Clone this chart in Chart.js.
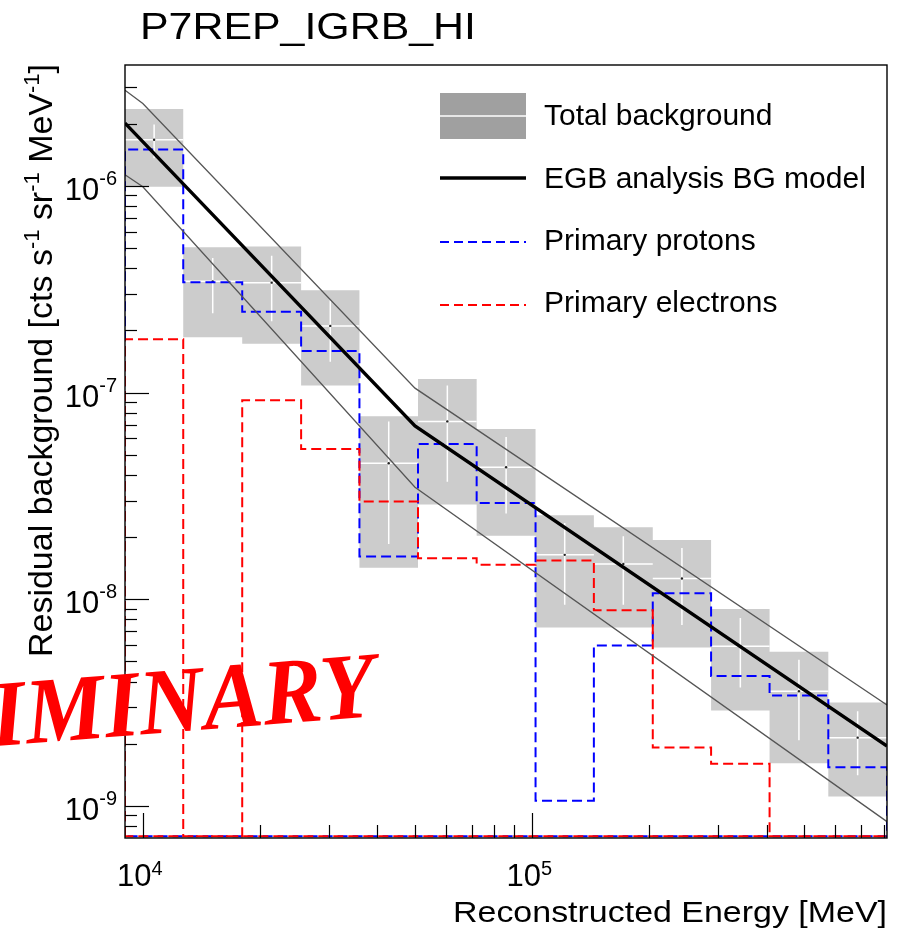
<!DOCTYPE html>
<html>
<head>
<meta charset="utf-8">
<title>P7REP_IGRB_HI residual background</title>
<script src="https://cdn.jsdelivr.net/npm/chart.js@4.4.1/dist/chart.umd.min.js"></script>
<style>
  html, body { margin: 0; padding: 0; background: #fff; overflow: hidden; }
  #wrap { position: relative; width: 898px; height: 932px; }
</style>
</head>
<body>
<div id="wrap"><canvas id="bgChart"></canvas></div>
<script>
// Energy bin edges [MeV] (sqrt(2) spacing)
const binEdges = [9000, 12700, 18000, 25500, 36000, 50900, 72000, 102000, 144000, 204000, 288000, 407000, 576000, 815000];

// Total residual background per bin: value, total (box) and stat (bar) half-widths
const totalBg  = [1.67e-6, 3.45e-7, 3.40e-7, 2.10e-7, 4.55e-8, 7.25e-8, 4.35e-8, 1.64e-8, 1.48e-8, 1.26e-8, 5.93e-9, 3.59e-9, 2.14e-9];
const totalErr = [0.68e-6, 1.60e-7, 1.68e-7, 1.02e-7, 3.13e-8, 4.38e-8, 2.32e-8, 9.1e-9, 7.5e-9, 6.75e-9, 3.03e-9, 1.98e-9, 1.03e-9];
const statErr  = [0.31e-6, 1.03e-7, 1.19e-7, 0.69e-7, 2.70e-8, 3.55e-8, 1.75e-8, 7.0e-9, 5.4e-9, 5.1e-9, 2.19e-9, 1.51e-9, 0.73e-9];

// Primary proton / electron contributions per bin (0 = empty bin)
const protons   = [1.50e-6, 3.42e-7, 2.46e-7, 1.59e-7, 1.61e-8, 5.63e-8, 2.92e-8, 1.06e-9, 5.97e-9, 1.07e-8, 4.25e-9, 3.42e-9, 1.54e-9];
const electrons = [1.81e-7, 0, 9.18e-8, 5.33e-8, 2.97e-8, 1.58e-8, 1.47e-8, 1.54e-8, 8.84e-9, 1.92e-9, 1.60e-9, 0, 0];

// EGB analysis background model and its band
const modelE  = [9000, 50000, 815000];
const modelBg = [2.01e-6, 6.9e-8, 1.95e-9];
const bandE   = [9000, 10000, 50000, 815000];
const bandHi  = [2.90e-6, 2.50e-6, 1.05e-7, 3.08e-9];
const bandLo  = [1.13e-6, 9.9e-7, 3.48e-8, 8.4e-10];

// Axis ranges and labelled decades
const xRange = [9000, 815000];
const yRange = [7.14e-10, 3.84e-6];
const xDecades = [4, 5];
const yDecades = [-9, -8, -7, -6];

const FONT = '"Liberation Sans", Arial, Helvetica, sans-serif';

// --- build point lists from the arrays ---
const nBins = totalBg.length;
const binMid = i => Math.sqrt(binEdges[i] * binEdges[i + 1]);

function histPoints(vals) {
  // outline like a ROOT histogram; empty bins sit on the bottom of the frame
  const floor = yRange[0];
  const v = vals.map(y => Math.max(y, floor));
  const pts = [{ x: binEdges[0], y: floor }];
  v.forEach((y, i) => pts.push({ x: binEdges[i], y }));
  pts.push({ x: binEdges[nBins], y: v[nBins - 1] });
  pts.push({ x: binEdges[nBins], y: floor });
  pts.push({ x: binEdges[0], y: floor });
  return pts;
}

function boxEdge(sign) {
  const pts = totalBg.map((c, i) => ({ x: binEdges[i], y: c + sign * totalErr[i] }));
  pts.push({ x: binEdges[nBins], y: pts[nBins - 1].y });
  return pts;
}

const hBars = [], vBars = [], centres = [];
totalBg.forEach((c, i) => {
  hBars.push({ x: binEdges[i], y: c }, { x: binEdges[i + 1], y: c }, { x: binEdges[i + 1], y: null });
  vBars.push({ x: binMid(i), y: c - statErr[i] }, { x: binMid(i), y: c + statErr[i] }, { x: binMid(i), y: null });
  centres.push({ x: binMid(i), y: c });
});

const zip = (xs, ys) => xs.map((x, i) => ({ x, y: ys[i] }));

// --- drawing helpers ---
function drawPower(ctx, exp, x, tickPos, axis) {
  ctx.font = '31px ' + FONT;
  const wBase = ctx.measureText('10').width;
  ctx.font = '20px ' + FONT;
  const sup = String(exp);
  const wSup = ctx.measureText(sup).width;
  const total = wBase + wSup;
  let left, baseY, supY;
  if (axis === 'y') {
    left = x - total; baseY = tickPos + 14; supY = tickPos - 1;
  } else {
    left = x - total / 2 - 3; baseY = tickPos + 48; supY = tickPos + 37;
  }
  ctx.textAlign = 'left';
  ctx.textBaseline = 'alphabetic';
  ctx.font = '31px ' + FONT;
  ctx.fillText('10', left, baseY);
  ctx.font = '20px ' + FONT;
  ctx.fillText(sup, left + wBase, supY);
}

function drawRich(ctx, pieces, size, supSize, lift) {
  let w = 0;
  pieces.forEach(p => {
    ctx.font = (p.sup ? supSize : size) + 'px ' + FONT;
    p.w = ctx.measureText(p.t).width;
    w += p.w;
  });
  return {
    width: w,
    draw() {
      let x = 0;
      pieces.forEach(p => {
        ctx.font = (p.sup ? supSize : size) + 'px ' + FONT;
        ctx.fillText(p.t, x, p.sup ? -lift : 0);
        x += p.w;
      });
    }
  };
}

function fitText(ctx, text, font, x, y, width) {
  ctx.save();
  ctx.font = font;
  const w = ctx.measureText(text).width;
  ctx.translate(x, y);
  ctx.scale(width / w, 1);
  ctx.textAlign = 'left';
  ctx.fillText(text, 0, 0);
  ctx.restore();
}

// Frame, inward ticks, tick labels and axis titles in ROOT style
const rootAxes = {
  id: 'rootAxes',
  afterDatasetsDraw(chart) {
    const { ctx, chartArea: a, scales: { x, y } } = chart;
    ctx.save();
    ctx.strokeStyle = '#000';
    ctx.fillStyle = '#000';
    ctx.lineWidth = 1.2;

    for (let d = -10; d <= -5; d++) {
      for (let m = 1; m <= 9; m++) {
        const v = m * Math.pow(10, d);
        if (v <= yRange[0] || v >= yRange[1]) continue;
        const py = Math.round(y.getPixelForValue(v)) + 0.5;
        const len = m === 1 ? 24 : 12;
        ctx.beginPath(); ctx.moveTo(a.left, py); ctx.lineTo(a.left + len, py); ctx.stroke();
      }
    }
    for (let d = 3; d <= 5; d++) {
      for (let m = 1; m <= 9; m++) {
        const v = m * Math.pow(10, d);
        if (v <= xRange[0] || v >= xRange[1]) continue;
        const px = Math.round(x.getPixelForValue(v)) + 0.5;
        const len = m === 1 ? 25 : 13;
        ctx.beginPath(); ctx.moveTo(px, a.bottom); ctx.lineTo(px, a.bottom - len); ctx.stroke();
      }
    }

    ctx.lineWidth = 1.4;
    ctx.strokeRect(a.left, a.top, a.right - a.left, a.bottom - a.top);

    yDecades.forEach(d => drawPower(ctx, '-' + Math.abs(d), a.left - 8, y.getPixelForValue(Math.pow(10, d)), 'y'));
    xDecades.forEach(d => drawPower(ctx, d, x.getPixelForValue(Math.pow(10, d)), a.bottom, 'x'));

    // titles
    fitText(ctx, 'P7REP_IGRB_HI', '37px ' + FONT, 140, 39, 336);
    fitText(ctx, 'Reconstructed Energy [MeV]', '29px ' + FONT, a.right - 434, 921.5, 434);

    const ytitle = drawRich(ctx, [
      { t: 'Residual background [cts s' }, { t: '-1', sup: true },
      { t: ' sr' }, { t: '-1', sup: true },
      { t: ' MeV' }, { t: '-1', sup: true }, { t: ']' }
    ], 34, 22, 13);
    ctx.save();
    ctx.translate(52, 657);
    ctx.rotate(-Math.PI / 2);
    ctx.scale(593 / ytitle.width, 1);
    ctx.textAlign = 'left';
    ctx.textBaseline = 'alphabetic';
    ytitle.draw();
    ctx.restore();

    ctx.restore();
  }
};

// Legend in the upper right corner of the frame, plus the watermark
const rootLegend = {
  id: 'rootLegend',
  afterDraw(chart) {
    const { ctx } = chart;
    const x0 = 440, x1 = 526, tx = 544;
    ctx.save();
    ctx.fillStyle = '#a0a0a0';
    ctx.fillRect(x0, 93, x1 - x0, 46);
    ctx.strokeStyle = '#fff'; ctx.lineWidth = 1.5;
    ctx.beginPath(); ctx.moveTo(x0, 116); ctx.lineTo(x1, 116); ctx.stroke();

    ctx.strokeStyle = '#000'; ctx.lineWidth = 3.4;
    ctx.beginPath(); ctx.moveTo(x0, 178); ctx.lineTo(x1, 178); ctx.stroke();

    ctx.lineWidth = 2; ctx.setLineDash([9, 5]);
    ctx.strokeStyle = '#0000ff';
    ctx.beginPath(); ctx.moveTo(x0, 242); ctx.lineTo(x1, 242); ctx.stroke();
    ctx.strokeStyle = '#ff0000';
    ctx.beginPath(); ctx.moveTo(x0, 305); ctx.lineTo(x1, 305); ctx.stroke();
    ctx.setLineDash([]);

    ctx.fillStyle = '#000';
    ctx.font = '30px ' + FONT;
    ctx.textAlign = 'left';
    ctx.textBaseline = 'alphabetic';
    ctx.fillText('Total background', tx, 125);
    ctx.fillText('EGB analysis BG model', tx, 188);
    ctx.fillText('Primary protons', tx, 250);
    ctx.fillText('Primary electrons', tx, 312);

    // watermark, running off the left edge
    ctx.save();
    ctx.translate(377, 716);
    ctx.rotate(-4.5 * Math.PI / 180);
    ctx.scale(0.95, 1);
    ctx.fillStyle = '#ff0000';
    ctx.font = 'italic bold 94px "Liberation Serif", "Times New Roman", serif';
    ctx.textAlign = 'right';
    ctx.fillText('PRELIMINARY', 0, 0);
    ctx.restore();

    ctx.restore();
  }
};

const line = (extra) => Object.assign({
  pointRadius: 0, fill: false, tension: 0, spanGaps: false
}, extra);

new Chart(document.getElementById('bgChart'), {
  type: 'line',
  data: {
    datasets: [
      line({ label: 'EGB analysis BG model', data: zip(modelE, modelBg), borderColor: '#000', borderWidth: 3.4 }),
      line({ label: 'model band high', data: zip(bandE, bandHi), borderColor: '#555', borderWidth: 1.3 }),
      line({ label: 'model band low', data: zip(bandE, bandLo), borderColor: '#555', borderWidth: 1.3 }),
      line({ label: 'Primary electrons', data: histPoints(electrons), borderColor: '#ff0000', borderWidth: 2, borderDash: [10, 5], stepped: true }),
      line({ label: 'Primary protons', data: histPoints(protons), borderColor: '#0000ff', borderWidth: 2, borderDash: [10, 5], stepped: true }),
      line({ label: 'centres', data: centres, showLine: false, pointRadius: 1.2, pointBackgroundColor: '#222', pointBorderWidth: 0 }),
      line({ label: 'stat', data: vBars, borderColor: '#fff', borderWidth: 1.5 }),
      line({ label: 'value', data: hBars, borderColor: '#fff', borderWidth: 1.5 }),
      line({ label: 'Total background', data: boxEdge(1), borderWidth: 0, stepped: true, fill: '+1', backgroundColor: '#cccccc' }),
      line({ label: 'total low', data: boxEdge(-1), borderWidth: 0, stepped: true })
    ]
  },
  options: {
    responsive: true,
    maintainAspectRatio: false,
    devicePixelRatio: 1,
    animation: false,
    events: [],
    layout: { padding: { left: 125, right: 11, top: 65, bottom: 94 } },
    scales: {
      x: { type: 'logarithmic', min: xRange[0], max: xRange[1], display: false },
      y: { type: 'logarithmic', min: yRange[0], max: yRange[1], display: false }
    },
    plugins: {
      legend: { display: false },
      tooltip: { enabled: false }
    }
  },
  plugins: [rootAxes, rootLegend]
});
</script>
</body>
</html>
